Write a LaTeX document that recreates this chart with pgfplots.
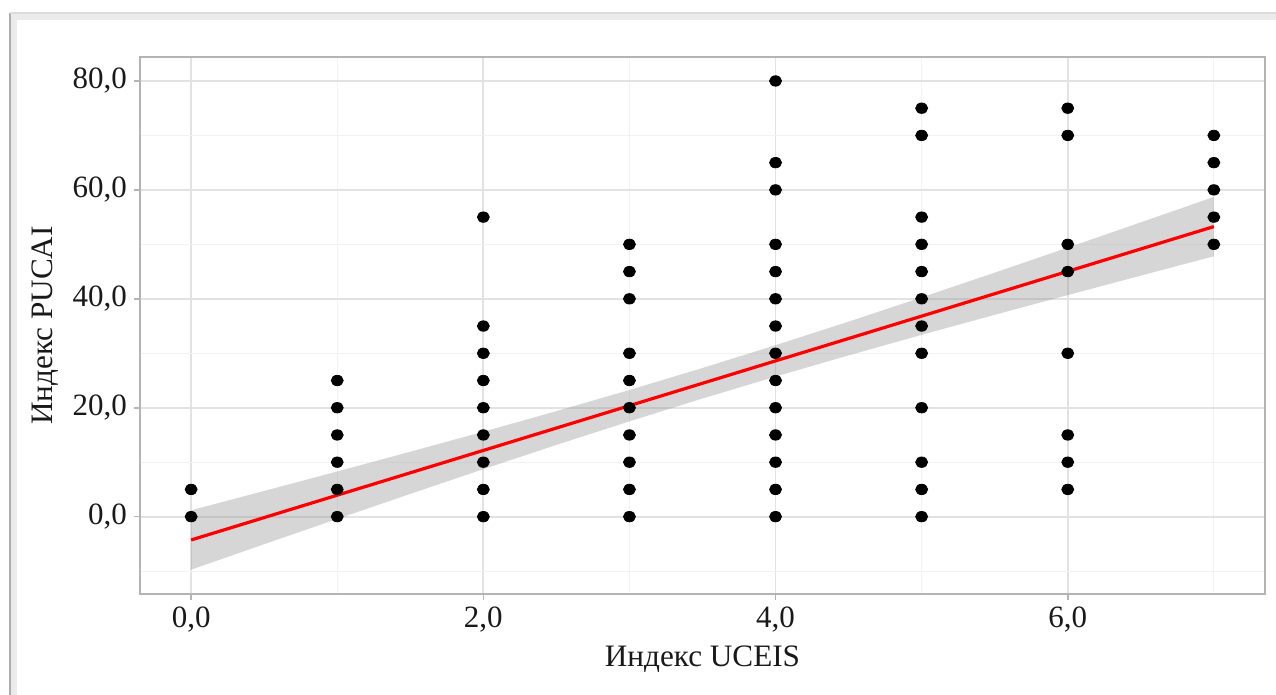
\documentclass[border=0pt]{standalone}
\usepackage{pgfplots}
\pgfplotsset{compat=1.18}
\usepackage{fontspec}
\setmainfont{Liberation Serif}

\definecolor{bandgray}{RGB}{153,153,153}
\definecolor{framegray}{RGB}{180,180,180}
\definecolor{gridmajor}{RGB}{226,226,226}
\definecolor{gridminor}{RGB}{242,242,242}

\begin{document}
\begin{tikzpicture}
\useasboundingbox (0,0) rectangle (638pt,347.5pt);

% panel frame with soft shadow
\begin{scope}[x=0.5pt,y=0.5pt]
  \clip (0,0) rectangle (1276,695);
  \draw[black!8, line width=3pt] (14,-20) -- (14,678) -- (1300,678);
  \draw[black!32, line width=1.1pt] (10,-20) -- (10,682);
  \draw[black!14, line width=1.1pt] (10,682) -- (1300,682);
\end{scope}

\begin{axis}[
  at={(70pt,50.5pt)}, anchor=south west,
  width=562.5pt, height=268.5pt, scale only axis,
  xmin=-0.35, xmax=7.35, ymin=-14.2, ymax=84.4,
  xtick={0,2,4,6}, ytick={0,20,40,60,80},
  minor xtick={1,3,5,7}, minor ytick={-10,10,30,50,70},
  grid=both,
  major grid style={gridmajor, line width=0.9pt},
  minor grid style={gridminor, line width=0.6pt},
  axis line style={framegray, line width=1pt},
  tick align=outside, tick pos=left,
  major tick length=3pt, minor tick length=0pt,
  major tick style={framegray, line width=0.8pt},
  ticklabel style={font=\fontsize{15.5}{18}\selectfont, text=black!90},
  label style={font=\fontsize{15.6}{18}\selectfont, text=black!90},
  xlabel={Индекс UCEIS},
  ylabel={Индекс PUCAI},
  /pgf/number format/.cd, fixed, fixed zerofill, precision=1, use comma, assume math mode=true,
]

% observations
\addplot[only marks, mark=*, mark size=3pt, black, mark options={yscale=0.87}] coordinates {
  (0,0) (0,5)
  (1,0) (1,5) (1,10) (1,15) (1,20) (1,25)
  (2,0) (2,5) (2,10) (2,15) (2,20) (2,25) (2,30) (2,35) (2,55)
  (3,0) (3,5) (3,10) (3,15) (3,20) (3,25) (3,30) (3,40) (3,45) (3,50)
  (4,0) (4,5) (4,10) (4,15) (4,20) (4,25) (4,30) (4,35) (4,40) (4,45) (4,50) (4,60) (4,65) (4,80)
  (5,0) (5,5) (5,10) (5,20) (5,30) (5,35) (5,40) (5,45) (5,50) (5,55) (5,70) (5,75)
  (6,5) (6,10) (6,15) (6,30) (6,45) (6,50) (6,70) (6,75)
  (7,50) (7,55) (7,60) (7,65) (7,70)
};

% 95% confidence band of the linear fit
\addplot[draw=none, fill=bandgray, fill opacity=0.4] coordinates {
  (0,1.17) (0.5,4.72) (1,8.30) (1.5,11.92) (2,15.60) (2.5,19.37) (3,23.26) (3.5,27.29)
  (4,31.48) (4.5,35.81) (5,40.26) (5.5,44.80) (6,49.40) (6.5,54.04) (7,58.71)
  (7,47.81) (6.5,44.26) (6,40.68) (5.5,37.06) (5,33.38) (4.5,29.61) (4,25.72)
  (3.5,21.69) (3,17.50) (2.5,13.17) (2,8.72) (1.5,4.18) (1,-0.42) (0.5,-5.06) (0,-9.73)
} -- cycle;

% fitted line
\addplot[red, line width=1.6pt] coordinates {(0,-4.28) (7,53.26)};

\end{axis}
\end{tikzpicture}
\end{document}
